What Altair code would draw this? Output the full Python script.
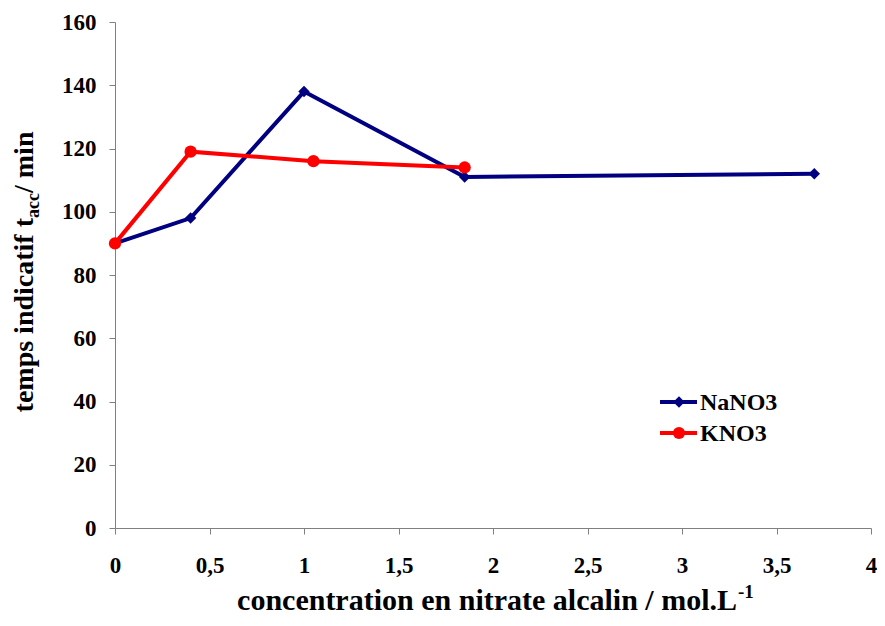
import altair as alt
import pandas as pd

na_x = [0, 0.4, 1.0, 1.85, 3.7]
na_y = [90, 98, 138, 111, 112]
k_x = [0, 0.4, 1.05, 1.85]
k_y = [90, 119, 116, 114]
x_ticks = [0, 0.5, 1, 1.5, 2, 2.5, 3, 3.5, 4]
y_ticks = [0, 20, 40, 60, 80, 100, 120, 140, 160]

NAVY = "#000080"
RED = "#FF0000"
FONT = "Liberation Serif"

na = pd.DataFrame({"x": na_x, "y": na_y})
k = pd.DataFrame({"x": k_x, "y": k_y})

xs = alt.Scale(domain=[0, 4], nice=False)
ys = alt.Scale(domain=[0, 160], nice=False)

xax = alt.Axis(values=x_ticks, title=None, grid=False,
               labelExpr="replace(toString(datum.value), '.', ',')",
               labelFont=FONT, labelFontSize=23, labelFontWeight="bold", labelColor="black",
               labelPadding=20, tickSize=6, tickColor="#808080", domainColor="#808080",
               labelFlush=False, labelOverlap=False)
yax = alt.Axis(values=y_ticks, title=None, grid=False,
               labelFont=FONT, labelFontSize=23, labelFontWeight="bold", labelColor="black",
               labelPadding=13, tickSize=6, tickColor="#808080", domainColor="#808080",
               labelFlush=False, labelOverlap=False)

base_na = alt.Chart(na).encode(x=alt.X("x:Q", scale=xs, axis=xax), y=alt.Y("y:Q", scale=ys, axis=yax))
base_k = alt.Chart(k).encode(x=alt.X("x:Q", scale=xs, axis=xax), y=alt.Y("y:Q", scale=ys, axis=yax))

na_line = base_na.mark_line(color=NAVY, strokeWidth=4)
na_pts = base_na.mark_point(shape="diamond", filled=True, color=NAVY, size=130, opacity=1)
k_line = base_k.mark_line(color=RED, strokeWidth=4)
k_pts = base_k.mark_point(shape="circle", filled=True, color=RED, size=150, opacity=1)

# legend
leg_na_line = alt.Chart().mark_rule(color=NAVY, strokeWidth=4).encode(
    x=alt.value(545), x2=alt.value(582), y=alt.value(380))
leg_na_pt = alt.Chart().mark_point(shape="diamond", filled=True, color=NAVY, size=130, opacity=1).encode(
    x=alt.value(564), y=alt.value(380))
leg_na_txt = alt.Chart().mark_text(text="NaNO3", font=FONT, fontSize=24, fontWeight="bold",
                                   align="left", baseline="middle", color="black").encode(
    x=alt.value(585), y=alt.value(381))
leg_k_line = alt.Chart().mark_rule(color=RED, strokeWidth=4).encode(
    x=alt.value(545), x2=alt.value(582), y=alt.value(411))
leg_k_pt = alt.Chart().mark_point(shape="circle", filled=True, color=RED, size=150, opacity=1).encode(
    x=alt.value(564), y=alt.value(411))
leg_k_txt = alt.Chart().mark_text(text="KNO3", font=FONT, fontSize=24, fontWeight="bold",
                                  align="left", baseline="middle", color="black").encode(
    x=alt.value(585), y=alt.value(412))

# x title with superscript
xt_main = alt.Chart().mark_text(text="concentration en nitrate alcalin / mol.L", font=FONT, fontSize=30,
                                fontWeight="bold", align="right", baseline="alphabetic", color="black").encode(
    x=alt.value(622), y=alt.value(588))
xt_sup = alt.Chart().mark_text(text="-1", font=FONT, fontSize=19, fontWeight="bold",
                               align="left", baseline="alphabetic", color="black").encode(
    x=alt.value(623), y=alt.value(576))

# y title with subscript (rotated)
yt1 = alt.Chart().mark_text(text="temps indicatif t", font=FONT, fontSize=28, fontWeight="bold",
                            angle=270, align="right", baseline="alphabetic", color="black").encode(
    x=alt.value(-82), y=alt.value(196))
yt2 = alt.Chart().mark_text(text="acc", font=FONT, fontSize=18, fontWeight="bold",
                            angle=270, align="left", baseline="alphabetic", color="black").encode(
    x=alt.value(-76), y=alt.value(196))
yt3 = alt.Chart().mark_text(text=" / min", font=FONT, fontSize=28, fontWeight="bold",
                            angle=270, align="left", baseline="alphabetic", color="black").encode(
    x=alt.value(-82), y=alt.value(171))

chart = alt.layer(
    na_line, na_pts, k_line, k_pts,
    leg_na_line, leg_na_pt, leg_na_txt, leg_k_line, leg_k_pt, leg_k_txt,
    xt_main, xt_sup, yt1, yt2, yt3,
).properties(
    width=756, height=506,
    autosize=alt.AutoSizeParams(type="none"),
    padding={"left": 107, "top": 14, "right": 6, "bottom": 90},
    background="white",
).configure_view(stroke=None)

chart.save("out.html", embed_options={"renderer": "svg", "actions": False})
